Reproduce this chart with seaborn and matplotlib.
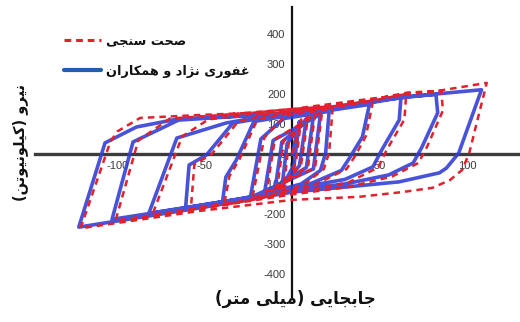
import numpy as np
import pandas as pd
import matplotlib
matplotlib.use("Agg")
import matplotlib.pyplot as plt
from matplotlib.lines import Line2D
import seaborn as sns

# ---------------------------------------------------------------- data
# Cyclic load-displacement path of the numerical model (mm, kN)
model_disp = [0, 4, 1, -6, -3, 8, 4, -10, -6, 12, 8, -16, -11, 16, 12, -24, -18, -5,
              21, 19, 16, 5, -20, -40, -38, -32, -22, 0, 21,
              44, 40, 33, 28, 10, -20, -61, -59, -49, -34, -15, 0, 21, 44,
              62, 61, 51, 46, 30, 0, -30, -82, -66, -38, -20, 0, 21, 44, 62,
              82, 83, 74, 69, 55, 30, 0, -50, -103, -91, -65, -35, 0, 44, 82,
              108, 95, 88, 84, 61, 31, 0, -53, -122, -107, -89, -65, -35, 0, 20]
model_force = [0, 108, -35, -112, 35, 118, -40, -122, 40, 126, -45, -132, 45, 132, -50, -145, 50, 118,
               142, 3, -55, -100, -140, -163, -77, -20, 108, 130, 145,
               165, 57, -10, -55, -100, -140, -180, -37, -3, 103, 122, 133, 147, 170,
               188, 113, 13, -43, -85, -115, -150, -198, 53, 103, 122, 135, 150, 172, 190,
               198, 137, 23, -30, -70, -100, -122, -170, -218, 40, 113, 124, 137, 175, 200,
               214, 3, -47, -63, -93, -110, -127, -180, -244, 37, 90, 117, 125, 137, 145]

# Cyclic load-displacement path of the verification analysis (mm, kN)
verif_disp = [0, 5, 2, -5, -2, 9, 5, -9, -5, 13, 9, -15, -10, 17, 13, -23, -16, -4,
              23, 21, 18, 6, -20, -39, -36, -30, -20, 0, 22,
              46, 42, 36, 31, 12, -20, -58, -56, -46, -31, -15, 0, 22, 46,
              65, 64, 54, 49, 32, 0, -30, -80, -63, -48, -28, 0, 46, 66,
              85, 86, 77, 72, 57, 32, 0, -50, -101, -88, -70, -45, 0, 46, 85,
              111, 101, 97, 90, 80, 63, 38, 0, -53, -121, -104, -100, -87, -53, -23, 0, 20]
verif_force = [0, 115, -30, -118, 40, 125, -35, -128, 45, 135, -40, -138, 50, 142, -45, -150, 55, 128,
               152, 5, -50, -105, -150, -170, -75, -15, 115, 140, 155,
               175, 60, -5, -50, -105, -150, -185, -35, 0, 108, 130, 142, 157, 178,
               200, 115, 15, -45, -95, -128, -160, -203, 58, 115, 130, 145, 182, 205,
               210, 145, 25, -30, -75, -110, -135, -180, -222, 45, 118, 128, 150, 185, 212,
               237, 3, -53, -87, -113, -127, -143, -153, -190, -248, 40, 75, 120, 130, 137, 150, 158]

x_ticks = [-100, -50, 0, 50, 100]
y_ticks = [-400, -300, -200, -100, 0, 100, 200, 300, 400]

label_verif = "صحت سنجی"
label_model = "غفوری نژاد و همکاران"
x_title = "جابجایی (میلی متر)"
y_title = "نیرو (کیلونیوتن)"

# --------------------------------------------------- Persian text shaping
# contextual forms: (isolated, final, initial, medial); None = no forward join
FORMS = {
    "ا": ("\uFE8D", "\uFE8E", None, None),
    "آ": ("\uFE81", "\uFE82", None, None),
    "ب": ("\uFE8F", "\uFE90", "\uFE91", "\uFE92"),
    "پ": ("\uFB56", "\uFB57", "\uFB58", "\uFB59"),
    "ت": ("\uFE95", "\uFE96", "\uFE97", "\uFE98"),
    "ث": ("\uFE99", "\uFE9A", "\uFE9B", "\uFE9C"),
    "ج": ("\uFE9D", "\uFE9E", "\uFE9F", "\uFEA0"),
    "چ": ("\uFB7A", "\uFB7B", "\uFB7C", "\uFB7D"),
    "ح": ("\uFEA1", "\uFEA2", "\uFEA3", "\uFEA4"),
    "خ": ("\uFEA5", "\uFEA6", "\uFEA7", "\uFEA8"),
    "د": ("\uFEA9", "\uFEAA", None, None),
    "ذ": ("\uFEAB", "\uFEAC", None, None),
    "ر": ("\uFEAD", "\uFEAE", None, None),
    "ز": ("\uFEAF", "\uFEB0", None, None),
    "ژ": ("\uFB8A", "\uFB8B", None, None),
    "س": ("\uFEB1", "\uFEB2", "\uFEB3", "\uFEB4"),
    "ش": ("\uFEB5", "\uFEB6", "\uFEB7", "\uFEB8"),
    "ص": ("\uFEB9", "\uFEBA", "\uFEBB", "\uFEBC"),
    "ض": ("\uFEBD", "\uFEBE", "\uFEBF", "\uFEC0"),
    "ط": ("\uFEC1", "\uFEC2", "\uFEC3", "\uFEC4"),
    "ظ": ("\uFEC5", "\uFEC6", "\uFEC7", "\uFEC8"),
    "ع": ("\uFEC9", "\uFECA", "\uFECB", "\uFECC"),
    "غ": ("\uFECD", "\uFECE", "\uFECF", "\uFED0"),
    "ف": ("\uFED1", "\uFED2", "\uFED3", "\uFED4"),
    "ق": ("\uFED5", "\uFED6", "\uFED7", "\uFED8"),
    "ک": ("\uFB8E", "\uFB8F", "\uFB90", "\uFB91"),
    "گ": ("\uFB92", "\uFB93", "\uFB94", "\uFB95"),
    "ل": ("\uFEDD", "\uFEDE", "\uFEDF", "\uFEE0"),
    "م": ("\uFEE1", "\uFEE2", "\uFEE3", "\uFEE4"),
    "ن": ("\uFEE5", "\uFEE6", "\uFEE7", "\uFEE8"),
    "ه": ("\uFEE9", "\uFEEA", "\uFEEB", "\uFEEC"),
    "و": ("\uFEED", "\uFEEE", None, None),
    "ی": ("\uFBFC", "\uFBFD", "\uFBFE", "\uFBFF"),
}
MIRROR = {"(": ")", ")": "("}


def shape_fa(text):
    """Join Persian letters and put the line in right-to-left visual order."""
    out = []
    for i, c in enumerate(text):
        if c not in FORMS:
            out.append(c)
            continue
        prev = text[i - 1] if i > 0 else ""
        nxt = text[i + 1] if i + 1 < len(text) else ""
        iso, fin, ini, med = FORMS[c]
        join_prev = prev in FORMS and FORMS[prev][2] is not None
        join_next = ini is not None and nxt in FORMS
        if join_prev and join_next:
            out.append(med)
        elif join_prev:
            out.append(fin)
        elif join_next:
            out.append(ini)
        else:
            out.append(iso)
    return "".join(MIRROR.get(c, c) for c in reversed(out))


# ---------------------------------------------------------------- figure
sns.set_theme(style="white")
plt.rcParams["font.family"] = ["DejaVu Sans"]

fig = plt.figure(figsize=(5.2, 3.22), dpi=100)
ax = fig.add_axes([35 / 520, 25 / 322, 485 / 520, 290 / 322])

blue = "#3440d6"
red = "#e3202b"

df_model = pd.DataFrame({"disp": model_disp, "force": model_force})
df_verif = pd.DataFrame({"disp": verif_disp, "force": verif_force})

sns.lineplot(data=df_model, x="disp", y="force", sort=False, estimator=None,
             color=blue, lw=2.6, alpha=0.9, ax=ax, zorder=3)
sns.lineplot(data=df_verif, x="disp", y="force", sort=False, estimator=None,
             color=red, lw=1.8, ax=ax, zorder=4, linestyle=(0, (2.6, 2.0)))

ax.set_xlim(-147, 130)
ax.set_ylim(-477, 490)
ax.set_xlabel("")
ax.set_ylabel("")

# axes crossing at the origin
for side in ("top", "right"):
    ax.spines[side].set_visible(False)
ax.spines["left"].set_position(("data", 0))
ax.spines["bottom"].set_position(("data", 0))
ax.spines["left"].set_color("#111111")
ax.spines["left"].set_linewidth(1.6)
ax.spines["bottom"].set_color("#3c3c3c")
ax.spines["bottom"].set_linewidth(2.4)
ax.spines["left"].set_zorder(2)
ax.spines["bottom"].set_zorder(2)

ax.set_xticks(x_ticks)
ax.set_xticklabels([str(v) for v in x_ticks])
ax.set_xticks(np.arange(-140, 131, 10), minor=True)
ax.set_yticks(y_ticks)
ax.set_yticklabels([str(v) for v in y_ticks])
ax.tick_params(axis="x", which="both", direction="inout", length=3.5, width=0.8,
               color="#b0b0b0", labelsize=8, labelcolor="#3a3a3a", pad=3)
ax.tick_params(axis="y", which="major", direction="out", length=3, width=0.8,
               color="#111111", labelsize=8, labelcolor="#3a3a3a", pad=2)
for lab in ax.get_xticklabels() + ax.get_yticklabels():
    lab.set_family("Liberation Sans")

handles = [Line2D([], [], color=red, lw=2.2, linestyle=(0, (2.2, 1.6))),
           Line2D([], [], color="#1f5fb0", lw=3.0)]
leg = ax.legend(handles, [shape_fa(label_verif), shape_fa(label_model)],
                loc="upper left", bbox_to_anchor=(64 / 520, 1 - 35 / 322),
                bbox_transform=fig.transFigure, frameon=False, fontsize=9.3,
                handlelength=2.9, handletextpad=0.35, labelspacing=1.3,
                borderpad=0, borderaxespad=0)
for t in leg.get_texts():
    t.set_fontweight("bold")
    t.set_color("#111111")

fig.text(295 / 520, 1 - 299 / 322, shape_fa(x_title), ha="center", va="center",
         fontsize=12, fontweight="bold", color="#111111")
fig.text(20 / 520, 1 - 142 / 322, shape_fa(y_title), ha="center", va="center",
         rotation=90, fontsize=10.5, fontweight="bold", color="#111111")

fig.savefig("out.png", dpi=100)
